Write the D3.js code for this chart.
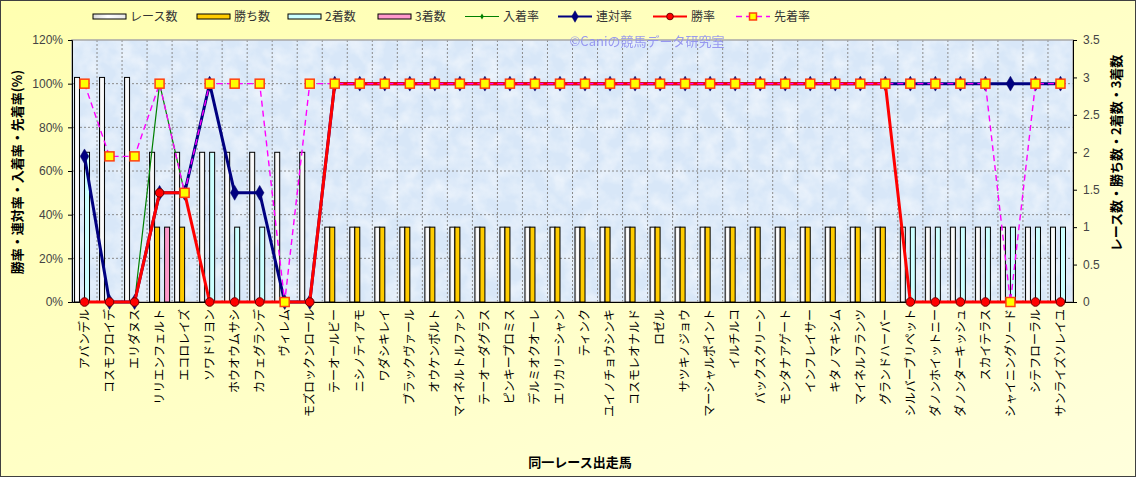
<!DOCTYPE html>
<html><head><meta charset="utf-8">
<script src="https://cdn.jsdelivr.net/npm/d3@7/dist/d3.min.js"></script>
<style>
html,body{margin:0;padding:0;background:#fff;}
svg{display:block;font-family:"Noto Sans CJK JP","Noto Sans",sans-serif;}
</style></head>
<body>
<svg id="chart" width="1136" height="477"></svg>
<script>
const categories = ["アバンデル","コスモフロイデ","エリダヌス","リリエンフェルト","エコロレイズ","ソワドリヨン","ホウオウムサシ","カフェグランデ","ヴィレム","モズロックンロール",
"テーオールビー","ニシノティアモ","ワダシキレイ","ブラックヴァール","オウケンボルト","マイネルトルファン","テーオーダグラス","ピンキープロミス","デルミオクオーレ","エリカリーシャン",
"ティンク","ユイノチョウシンキ","コスモレオナルド","ロゼル","サツキノジョウ","マーシャルポイント","イルチルコ","バックスクリーン","モンタナアゲート","インフレイサー",
"キタノマキシム","マイネルフランツ","グランドハーバー","シルバーブリペット","ダノンホイットニー","ダノンターキッシュ","スカイテラス","シャイニングソード","シテフローラル","サンライズソレイユ"];

const raceCounts   = [3,3,3,2,2,2,2,2,2,2, 1,1,1,1,1,1,1,1,1,1, 1,1,1,1,1,1,1,1,1,1, 1,1,1,1,1,1,1,1,1,1];
const winCounts    = [0,0,0,1,1,0,0,0,0,0, 1,1,1,1,1,1,1,1,1,1, 1,1,1,1,1,1,1,1,1,1, 1,1,1,0,0,0,0,0,0,0];
const secondCounts = [2,0,0,0,0,2,1,1,0,0, 0,0,0,0,0,0,0,0,0,0, 0,0,0,0,0,0,0,0,0,0, 0,0,0,1,1,1,1,1,1,1];
const thirdCounts  = [0,0,0,1,0,0,0,0,0,0, 0,0,0,0,0,0,0,0,0,0, 0,0,0,0,0,0,0,0,0,0, 0,0,0,0,0,0,0,0,0,0];

const placeRate  = [66.7,0,0,100,50,100,50,50,0,0, 100,100,100,100,100,100,100,100,100,100, 100,100,100,100,100,100,100,100,100,100, 100,100,100,100,100,100,100,100,100,100];
const rentaiRate = [66.7,0,0,50,50,100,50,50,0,0, 100,100,100,100,100,100,100,100,100,100, 100,100,100,100,100,100,100,100,100,100, 100,100,100,100,100,100,100,100,100,100];
const winRate    = [0,0,0,50,50,0,0,0,0,0, 100,100,100,100,100,100,100,100,100,100, 100,100,100,100,100,100,100,100,100,100, 100,100,100,0,0,0,0,0,0,0];
const beatRate   = [100,66.7,66.7,100,50,100,100,100,0,100, 100,100,100,100,100,100,100,100,100,100, 100,100,100,100,100,100,100,100,100,100, 100,100,100,100,100,100,100,0,100,100];

const leftTicks  = [0,20,40,60,80,100,120];
const rightTicks = [0,0.5,1,1.5,2,2.5,3,3.5];

const barSeries = [
  {key:"race",  name:"レース数", values:raceCounts,   fill:"url(#raceGrad)"},
  {key:"win",   name:"勝ち数",   values:winCounts,    fill:"#ffcc00"},
  {key:"second",name:"2着数",    values:secondCounts, fill:"#ccffff"},
  {key:"third", name:"3着数",    values:thirdCounts,  fill:"#ff99cc"}
];
const lineSeries = [
  {name:"入着率", values:placeRate,  color:"#008000", width:1.2, dash:null, marker:"greenDiamond"},
  {name:"連対率", values:rentaiRate, color:"#000080", width:3,   dash:null, marker:"navyDiamond"},
  {name:"勝率",   values:winRate,    color:"#ff0000", width:3,   dash:null, marker:"redCircle"},
  {name:"先着率", values:beatRate,   color:"#ff00ff", width:1.4, dash:"6,4", marker:"yellowSquare"}
];

const W=1136,H=477, L=72, R=1073, T=40, B=302;
const svg = d3.select("#chart");
const defs = svg.append("defs");

const bg = defs.append("linearGradient").attr("id","bgGrad").attr("x1","0").attr("y1","0").attr("x2","1").attr("y2","1");
bg.append("stop").attr("offset","0").attr("stop-color","#ffffb0");
bg.append("stop").attr("offset","1").attr("stop-color","#ffffdc");

const rg = defs.append("linearGradient").attr("id","raceGrad").attr("x1","0").attr("y1","0").attr("x2","1").attr("y2","0");
rg.append("stop").attr("offset","0").attr("stop-color","#d8d8d8");
rg.append("stop").attr("offset","0.45").attr("stop-color","#ffffff");
rg.append("stop").attr("offset","1").attr("stop-color","#e8e8e8");

const flt = defs.append("filter").attr("id","tex").attr("x","0").attr("y","0").attr("width","1").attr("height","1");
flt.append("feTurbulence").attr("type","fractalNoise").attr("baseFrequency","0.06").attr("numOctaves","3").attr("seed","7");
flt.append("feColorMatrix").attr("type","matrix").attr("values","0 0 0 0 1  0 0 0 0 1  0 0 0 0 1  1.6 0 0 0 -0.55");

// chart background
svg.append("rect").attr("x",0.5).attr("y",0.5).attr("width",W-1).attr("height",H-1)
  .attr("fill","url(#bgGrad)").attr("stroke","#404040").attr("stroke-width",1);

// plot area
svg.append("rect").attr("x",L).attr("y",T).attr("width",R-L).attr("height",B-T).attr("fill","#d8e7f8");
svg.append("rect").attr("x",L).attr("y",T).attr("width",R-L).attr("height",B-T).attr("filter","url(#tex)").attr("opacity",0.6);

const x = d3.scaleBand().domain(categories).range([L,R]).padding(0);
const xs = d3.scaleBand().domain(barSeries.map(d=>d.key)).range([0,x.bandwidth()]).paddingInner(0).paddingOuter(0.5);
const yL = d3.scaleLinear().domain([0,120]).range([B,T]);
const yR = d3.scaleLinear().domain([0,3.5]).range([B,T]);
const cx = c => x(c) + x.bandwidth()/2;

// grid
const grid = svg.append("g");
grid.selectAll("line.h").data(leftTicks.filter(t=>t>0 && t<120)).join("line")
  .attr("x1",L).attr("x2",R).attr("y1",d=>yL(d)).attr("y2",d=>yL(d))
  .attr("stroke","#8a8a8a").attr("stroke-width",1).attr("stroke-dasharray","2,2");
grid.selectAll("line.v").data(categories.slice(1)).join("line")
  .attr("x1",d=>x(d)).attr("x2",d=>x(d)).attr("y1",T).attr("y2",B)
  .attr("stroke","#8a8a8a").attr("stroke-width",1).attr("stroke-dasharray","2,2");
svg.append("rect").attr("x",L).attr("y",T).attr("width",R-L).attr("height",B-T)
  .attr("fill","none").attr("stroke","#a8a8a8").attr("stroke-width",1.5);

// bars
const barG = svg.append("g");
barSeries.forEach(s=>{
  barG.append("g").selectAll("rect").data(categories.map((c,i)=>({c,v:s.values[i]})).filter(d=>d.v>0)).join("rect")
    .attr("x",d=>x(d.c)+xs(s.key)).attr("width",xs.bandwidth())
    .attr("y",d=>yR(d.v)).attr("height",d=>B-yR(d.v))
    .attr("fill",s.fill).attr("stroke","#000").attr("stroke-width",1);
});

// axes
const axL = svg.append("g").attr("transform",`translate(${L},0)`)
  .call(d3.axisLeft(yL).tickValues(leftTicks).tickSize(4).tickFormat(d=>d+"%"));
const axR = svg.append("g").attr("transform",`translate(${R},0)`)
  .call(d3.axisRight(yR).tickValues(rightTicks).tickSize(4).tickFormat(d=>String(d)));
[axL,axR].forEach(a=>{
  a.select(".domain").attr("stroke","#000");
  a.selectAll(".tick line").attr("stroke","#000");
  a.selectAll(".tick text").attr("font-size",12).attr("fill","#444").attr("font-family","'Liberation Sans',Arial,sans-serif");
});
axL.selectAll(".tick text").attr("x",-9);
axR.selectAll(".tick text").attr("x",10);

const axB = svg.append("g").attr("transform",`translate(0,${B})`)
  .call(d3.axisBottom(x).tickSize(0).tickFormat(d=>d));
axB.select(".domain").attr("stroke","#000");
axB.selectAll(".tick text")
  .attr("font-size",12).attr("fill","#000").attr("font-family","'Noto Sans CJK JP',sans-serif")
  .attr("text-anchor","end").attr("transform","rotate(-90)")
  .attr("x",-7).attr("y",0).attr("dy","0.36em");

// markers
function drawMarker(g, type, px, py, scale){
  const k = scale || 1;
  if(type==="greenDiamond"){
    g.append("path").attr("d",d3.symbol(d3.symbolDiamond,18*k)()).attr("transform",`translate(${px},${py})`).attr("fill","#008000");
  } else if(type==="navyDiamond"){
    g.append("path").attr("d",d3.symbol(d3.symbolDiamond,64*k)()).attr("transform",`translate(${px},${py})`).attr("fill","#000080").attr("stroke","#000060").attr("stroke-width",0.5);
  } else if(type==="redCircle"){
    g.append("circle").attr("cx",px).attr("cy",py).attr("r",4.3*Math.sqrt(k)).attr("fill","#ff0000").attr("stroke","#700000").attr("stroke-width",1);
  } else if(type==="yellowSquare"){
    const s = 9*Math.sqrt(k);
    g.append("rect").attr("x",px-s/2).attr("y",py-s/2).attr("width",s).attr("height",s).attr("fill","#ffff00").attr("stroke","#ff4010").attr("stroke-width",1.5);
  }
}
const line = d3.line();
const lineG = svg.append("g");
lineSeries.forEach(s=>{
  const pts = categories.map((c,i)=>[cx(c), yL(s.values[i])]);
  const g = lineG.append("g");
  g.append("path").attr("d",line(pts)).attr("fill","none").attr("stroke",s.color)
    .attr("stroke-width",s.width).attr("stroke-dasharray",s.dash).attr("stroke-linejoin","round");
  pts.forEach(p=>drawMarker(g,s.marker,p[0],p[1]));
});

// watermark
svg.append("text").attr("x",647).attr("y",46).attr("text-anchor","middle")
  .attr("font-size",13).attr("fill","#9090f0").attr("opacity",0.9).text("©Caniの競馬データ研究室");

// legend
const legend = svg.append("g").attr("font-size",12).attr("fill","#333");
const barLegX = [93,197,288,378];
barSeries.forEach((s,i)=>{
  legend.append("rect").attr("x",barLegX[i]).attr("y",14).attr("width",33).attr("height",5)
    .attr("fill",s.fill).attr("stroke","#000").attr("stroke-width",1);
  legend.append("text").attr("x",barLegX[i]+37).attr("y",21).attr("fill","#333").text(s.name);
});
const lineLegX = [465,558,653,736];
lineSeries.forEach((s,i)=>{
  const lx=lineLegX[i];
  legend.append("line").attr("x1",lx).attr("x2",lx+34).attr("y1",16.5).attr("y2",16.5)
    .attr("stroke",s.color).attr("stroke-width",Math.min(s.width,2.2)).attr("stroke-dasharray",s.dash);
  drawMarker(legend,s.marker,lx+17,16.5,0.6);
  legend.append("text").attr("x",lx+38).attr("y",21).attr("fill","#333").text(s.name);
});

// axis titles
svg.append("text").attr("transform","translate(22,172) rotate(-90)").attr("text-anchor","middle")
  .attr("font-size",13).attr("font-weight","bold").attr("fill","#000").text("勝率・連対率・入着率・先着率(%)");
svg.append("text").attr("transform","translate(1121,153) rotate(-90)").attr("text-anchor","middle")
  .attr("font-size",13).attr("font-weight","bold").attr("fill","#000").text("レース数・勝ち数・2着数・3着数");
svg.append("text").attr("x",580).attr("y",467).attr("text-anchor","middle")
  .attr("font-size",13).attr("font-weight","bold").attr("fill","#000").text("同一レース出走馬");
</script>
</body></html>
